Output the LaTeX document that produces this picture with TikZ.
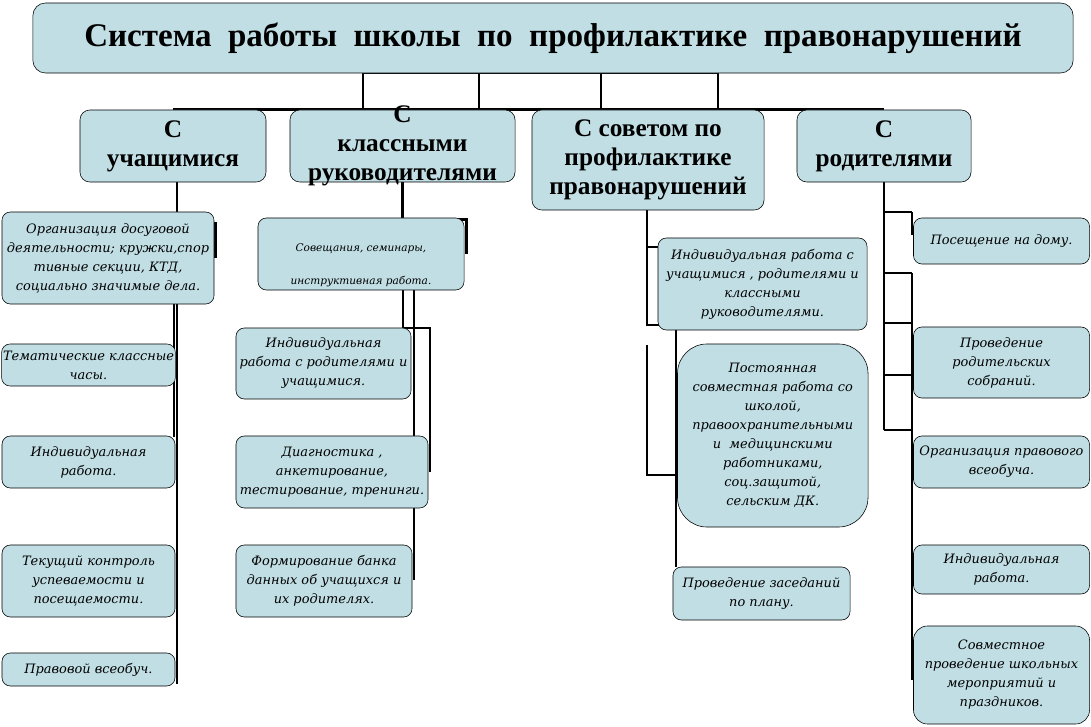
\documentclass[tikz,border=0pt]{standalone}
\usepackage{fontspec}
\setmainfont{Liberation Serif}
\newfontfamily\itemfont{DejaVu Serif}
\usetikzlibrary{calc,backgrounds}
\definecolor{boxfill}{RGB}{192,222,228}
\tikzset{
  hbox/.style={rectangle,draw,fill=boxfill,rounded corners=7pt,align=center,inner sep=1pt,
    font=\fontsize{18}{20.5}\selectfont\bfseries},
  hlabel/.style={align=center,inner sep=0pt,font=\fontsize{18}{20.5}\selectfont\bfseries},
  ibox/.style={rectangle,draw,fill=boxfill,rounded corners=6pt,align=center,inner sep=1pt,
    font=\itemfont\itshape\fontsize{9.2}{13.5}\selectfont},
  link/.style={line width=2pt},
  tlink/.style={line width=1.4pt}
}

\begin{document}
\begin{tikzpicture}[x=0.025cm,y=-0.025cm]
  \useasboundingbox (0,0) rectangle (1091,727);

  \node[hbox,rounded corners=9pt,minimum width=26cm,minimum height=1.75cm,
    font=\fontsize{23.5}{28}\selectfont\bfseries] (title) at (553,38)
    {Система\ \ работы\ \ школы\ \ по\ \ профилактике\ \ правонарушений};

  \node[hbox,minimum width=4.65cm,minimum height=1.8cm] (h1) at (173,146) {С\\учащимися};
  \node[hbox,minimum width=5.625cm,minimum height=1.8cm,
    label={[hlabel]center:{С\\классными\\руководителями}}] (h2) at (402.5,146) {};
  \node[hbox,minimum width=5.8cm,minimum height=2.5cm] (h3) at (648,160) {С советом по\\профилактике\\правонарушений};
  \node[hbox,minimum width=4.35cm,minimum height=1.8cm] (h4) at (884,146) {С\\родителями};

  % с учащимися
  \node[ibox,minimum width=5.3cm,minimum height=2.3cm] (a1) at (108,258)
    {Организация досуговой\\деятельности; кружки,спор\\тивные секции, КТД,\\социально значимые дела.};
  \node[ibox,minimum width=4.325cm,minimum height=1.05cm] (a2) at (88.5,365) {Тематические классные\\часы.};
  \node[ibox,minimum width=4.325cm,minimum height=1.3cm] (a3) at (88.5,462) {Индивидуальная\\работа.};
  \node[ibox,minimum width=4.325cm,minimum height=1.8cm] (a4) at (88.5,581) {Текущий контроль\\успеваемости и\\посещаемости.};
  \node[ibox,minimum width=4.325cm,minimum height=0.825cm] (a5) at (88.5,669.5) {Правовой всеобуч.};

  % с классными руководителями
  \node[ibox,minimum width=5.15cm,minimum height=1.8cm,
    label={[yshift=-8pt,align=center,font=\itemfont\itshape\fontsize{7.5}{9}\selectfont]center:{Совещания, семинары,\\[15pt]инструктивная работа.}}] (b1) at (361,254) {};
  \node[ibox,minimum width=4.375cm,minimum height=1.775cm] (b2) at (323.5,363.5) {Индивидуальная\\работа с родителями и\\учащимися.};
  \node[ibox,minimum width=4.8cm,minimum height=1.8cm] (b3) at (332,472) {Диагностика ,\\анкетирование,\\тестирование, тренинги.};
  \node[ibox,minimum width=4.4cm,minimum height=1.8cm] (b4) at (324,581) {Формирование банка\\данных об учащихся и\\их родителях.};

  % с советом
  \node[ibox,minimum width=5.225cm,minimum height=2.3cm] (c1) at (762.5,284)
    {Индивидуальная работа с\\учащимися , родителями и\\классными\\руководителями.};
  \node[ibox,rounded corners=21pt,minimum width=4.7625cm,minimum height=4.575cm] (c2) at (772.75,435.5)
    {Постоянная\\совместная работа со\\школой,\\правоохранительными\\и~~медицинскими\\работниками,\\соц.защитой,\\сельским ДК.};
  \node[ibox,minimum width=4.425cm,minimum height=1.325cm] (c3) at (761.5,593.5) {Проведение заседаний\\по плану.};

  % с родителями
  \node[ibox,minimum width=4.4cm,minimum height=1.15cm] (d1) at (1001.5,241) {Посещение на дому.};
  \node[ibox,minimum width=4.4cm,minimum height=1.775cm] (d2) at (1001.5,362.5) {Проведение\\родительских\\собраний.};
  \node[ibox,minimum width=4.4cm,minimum height=1.3cm] (d3) at (1001.5,462) {Организация правового\\всеобуча.};
  \node[ibox,minimum width=4.4cm,minimum height=1.225cm] (d4) at (1001.5,569.5) {Индивидуальная\\работа.};
  \node[ibox,rounded corners=10pt,minimum width=4.4cm,minimum height=2.45cm] (d5) at (1001.5,675)
    {Совместное\\проведение школьных\\мероприятий и\\праздников.};

  \begin{scope}[on background layer]
    \coordinate (t1) at (363,73);
    \coordinate (t2) at (479,73);
    \coordinate (t3) at (601,73);
    \coordinate (t4) at (718,73);
    \draw[tlink] (t1) -- (t4);
    \foreach \i in {1,...,4}
      \draw[tlink] (t\i) -- (t\i |- h1.north);
    \draw[link] (h1.north) -- (h4.north);

    \coordinate (a) at (177,684);
    \coordinate (ab) at (174,437);
    \draw[link] (h1.south -| a) -- (a);
    \draw[link] (a1.south -| ab) -- (ab);
    \draw[link] ($(a1.north east)+(1,10)$) -- ($(a1.east)+(1,0)$);

    \coordinate (k1) at (403,328);
    \coordinate (k2) at (430,328);
    \coordinate (k3) at (430,472);
    \coordinate (k4) at (414,580);
    \draw[link] (h2.south) -- (h2.south |- b1.north);
    \draw[link] ($(b1.north east)+(-8,2)$) -- ($(b1.north east)+(2,2)$) -- ($(b1.east)+(2,0)$);
    \draw[link] (b1.south -| k1) -- (k1) -- (k2) -- (k3);
    \draw[link] (b1.south -| k4) -- (k4);

    \coordinate (m0) at (647,247);
    \coordinate (m1) at (647,325);
    \coordinate (m2) at (676,325);
    \coordinate (m3) at (647,345);
    \coordinate (m4) at (647,475);
    \coordinate (m5) at (676,475);
    \draw[link] (h3.south -| m1) -- (m1) -- (m2);
    \draw[link] (m0) -- (m0 -| c1.west);
    \draw[link] (m2 |- c1.south) -- (m2 |- c3.north);
    \draw[link] (m3) -- (m4) -- (m5);

    \coordinate (r0) at (912,212);
    \coordinate (r1) at (912,235);
    \coordinate (r2) at (912,273);
    \coordinate (r3) at (912,680);
    \draw[link] (h4.south) -- (h4.south |- 0,430);
    \foreach \y in {212,273,323,375,430}
      \draw[link] (884,\y) -- (912,\y);
    \draw[link] (r0) -- (r1);
    \draw[link] (r2) -- (r3);
  \end{scope}
\end{tikzpicture}
\end{document}
